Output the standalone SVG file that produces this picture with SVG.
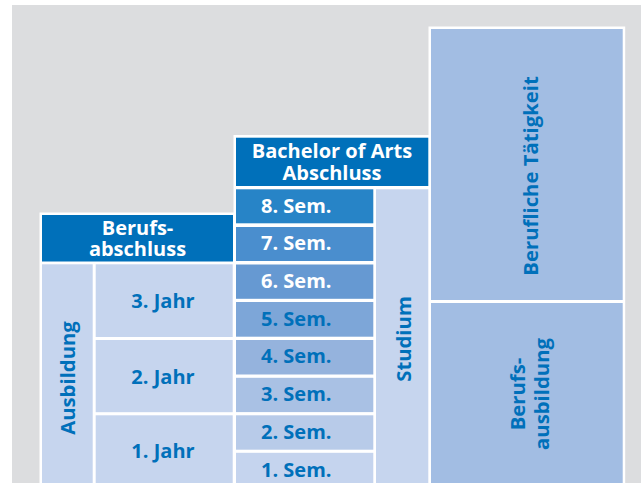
<svg xmlns="http://www.w3.org/2000/svg" width="641" height="483" viewBox="0 0 641 483">
<style>
text{font-family:"Open Sans","Noto Sans","DejaVu Sans",sans-serif;font-weight:bold;}
.hd{fill:#0070BA}
.lt{fill:#C6D5EE}
.big{fill:#A2BDE3}
.w{fill:#FFFFFF}
.tw{fill:#FFFFFF;font-size:20px;text-anchor:middle}
.tb{fill:#0070BA;font-size:20px}
.tm{text-anchor:middle}
.rot{fill:#0070BA;font-size:20.3px;text-anchor:middle}
.sw{fill:#FFFFFF;font-size:20px}
</style>
<rect x="0" y="0" width="641" height="483" fill="#FFFFFF"/>
<rect x="12" y="5" width="629" height="478" fill="#DCDDDF"/>
<rect class="w" x="39.5" y="212.5" width="196" height="275"/>
<rect class="w" x="233.5" y="135" width="197" height="352"/>
<rect class="w" x="428.5" y="26.5" width="196.7" height="460"/>

<g id="berufsabschluss">
<rect class="hd" x="42" y="215" width="191" height="46.5"/>
<text class="tw"><tspan x="137.5" y="235">Berufs-</tspan><tspan x="137.5" y="256">abschluss</tspan></text>
</g>
<g id="ausbildung">
<rect class="lt" x="42" y="264.3" width="50.7" height="225"/>
<text class="rot" transform="translate(74.5,378) rotate(-90)">Ausbildung</text>
</g>
<g id="jahr3">
<rect class="lt" x="95.7" y="264.3" width="137" height="72.7"/>
<text class="tb tm" x="163" y="307.5">3. Jahr</text>
</g>
<g id="jahr2">
<rect class="lt" x="95.7" y="340" width="137" height="72.2"/>
<text class="tb tm" x="163" y="384">2. Jahr</text>
</g>
<g id="jahr1">
<rect class="lt" x="95.7" y="415.3" width="137" height="75"/>
<text class="tb tm" x="163" y="457.7">1. Jahr</text>
</g>

<g id="bachelor">
<rect class="hd" x="236" y="137.7" width="192.3" height="48.3"/>
<text class="tw"><tspan x="332" y="158.3">Bachelor of Arts</tspan><tspan x="332" y="180">Abschluss</tspan></text>
</g>
<g id="sem8">
<rect x="236" y="189.3" width="137.3" height="34" fill="#2784C7"/>
<text class="sw" x="261" y="212.7">8. Sem.</text>
</g>
<g id="sem7">
<rect x="236" y="227" width="137.3" height="34" fill="#4A8ECE"/>
<text class="sw" x="261" y="250.4">7. Sem.</text>
</g>
<g id="sem6">
<rect x="236" y="264.5" width="137.3" height="34.3" fill="#6699D2"/>
<text class="sw" x="261" y="288">6. Sem.</text>
</g>
<g id="sem5">
<rect x="236" y="302" width="137.3" height="34.7" fill="#7DA6D8"/>
<text class="tb" x="261" y="325.7">5. Sem.</text>
</g>
<g id="sem4">
<rect x="236" y="340" width="137.3" height="34.5" fill="#95B3DD"/>
<text class="tb" x="261" y="363.4">4. Sem.</text>
</g>
<g id="sem3">
<rect x="236" y="377.8" width="137.3" height="34.3" fill="#A9C1E4"/>
<text class="tb" x="261" y="401.1">3. Sem.</text>
</g>
<g id="sem2">
<rect x="236" y="415.3" width="137.3" height="34.4" fill="#B8CBE9"/>
<text class="tb" x="261" y="438.8">2. Sem.</text>
</g>
<g id="sem1">
<rect x="236" y="452.8" width="137.3" height="36" fill="#C5D4EE"/>
<text class="tb" x="261" y="476.5">1. Sem.</text>
</g>
<g id="studium">
<rect class="lt" x="376" y="189.3" width="52.3" height="300"/>
<text class="rot" transform="translate(410.5,339) rotate(-90)">Studium</text>
</g>

<g id="berufliche-taetigkeit">
<rect class="big" x="431" y="29" width="191.7" height="271"/>
<text class="rot" transform="translate(538,176) rotate(-90)">Berufliche Tätigkeit</text>
</g>
<g id="berufsausbildung">
<rect class="big" x="431" y="303" width="191.7" height="185"/>
<text class="rot" transform="translate(525,394) rotate(-90)"><tspan x="0" y="0">Berufs-</tspan><tspan x="0" y="24">ausbildung</tspan></text>
</g>
<g id="connectors"></g>
</svg>
